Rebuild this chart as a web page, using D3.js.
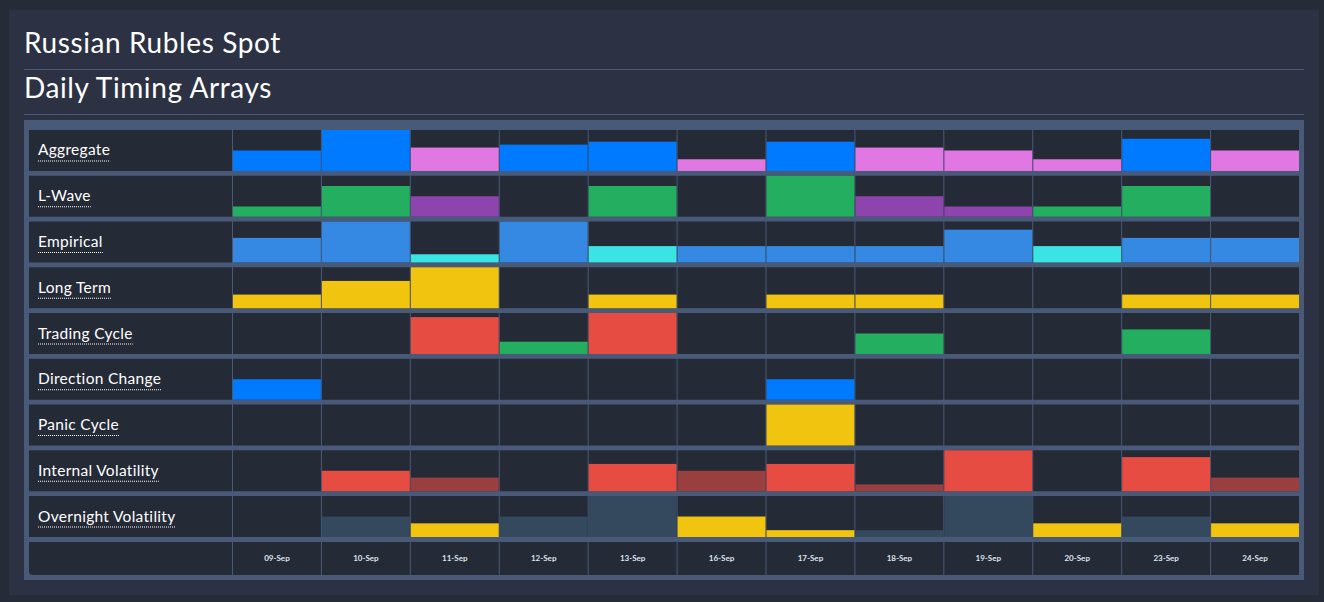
<!DOCTYPE html>
<html>
<head>
<meta charset="utf-8">
<script src="https://cdn.jsdelivr.net/npm/d3@7"></script>
<style>
  html, body { margin: 0; padding: 0; background: #262b38; }
  svg { display: block; }
</style>
</head>
<body>
<svg id="chart" width="1324" height="602"></svg>
<script>
// ---------- DATA ----------
const title = "Russian Rubles Spot";
const subtitle = "Daily Timing Arrays";
const dates = ["09-Sep","10-Sep","11-Sep","12-Sep","13-Sep","16-Sep","17-Sep","18-Sep","19-Sep","20-Sep","23-Sep","24-Sep"];
const rowNames = ["Aggregate","L-Wave","Empirical","Long Term","Trading Cycle","Direction Change","Panic Cycle","Internal Volatility","Overnight Volatility"];

// values per row (bar strength), and max of each row's scale
const aggregateValues   = [7,14,8,9,10,4,10,8,7,4,11,7];
const aggregateType     = ["a","a","b","a","a","b","a","b","b","b","a","b"];
const lwaveValues       = [1,3,2,0,3,0,4,2,1,1,3,0];
const lwaveType         = ["a","a","b","a","a","a","a","b","b","a","a","a"];
const empiricalValues   = [3,5,1,5,2,2,2,2,4,2,3,3];
const empiricalType     = ["a","a","b","a","b","a","a","a","a","b","a","a"];
const longTermValues    = [1,2,3,0,1,0,1,1,0,0,1,1];
const longTermType      = ["a","a","a","a","a","a","a","a","a","a","a","a"];
const tradingValues     = [0,0,9,3,10,0,0,5,0,0,6,0];
const tradingType       = ["a","a","a","b","a","a","a","b","a","a","b","a"];
const directionValues   = [1,0,0,0,0,0,1,0,0,0,0,0];
const directionType     = ["a","a","a","a","a","a","a","a","a","a","a","a"];
const panicValues       = [0,0,0,0,0,0,1,0,0,0,0,0];
const panicType         = ["a","a","a","a","a","a","a","a","a","a","a","a"];
const internalValues    = [0,3,2,0,4,3,4,1,6,0,5,2];
const internalType      = ["a","a","b","a","a","b","a","b","a","a","a","b"];
const overnightValues   = [0,3,2,3,6,3,1,1,6,2,3,2];
const overnightType     = ["a","a","b","a","a","b","b","a","a","b","a","b"];
const rowMax            = [14,4,5,3,10,2,1,6,6];

// ---------- STYLE ----------
const palettes = [
  {a:"#007bff", b:"#e077e2"},
  {a:"#24ae60", b:"#8e44ad"},
  {a:"#3689e3", b:"#3ae4e4"},
  {a:"#f1c40f", b:"#f1c40f"},
  {a:"#e74c42", b:"#24ae60"},
  {a:"#007bff", b:"#007bff"},
  {a:"#f1c40f", b:"#f1c40f"},
  {a:"#e74c42", b:"#9a3f3f"},
  {a:"#34495e", b:"#f1c40f"}
];
const allValues = [aggregateValues,lwaveValues,empiricalValues,longTermValues,tradingValues,directionValues,panicValues,internalValues,overnightValues];
const allTypes  = [aggregateType,lwaveType,empiricalType,longTermType,tradingType,directionType,panicType,internalType,overnightType];

const svg = d3.select("#chart");
const FONT = "Lato, 'Open Sans', sans-serif";
const borderCol = "#485a78";
const cellCol = "#252a37";

// panel
svg.append("rect").attr("x",9).attr("y",10).attr("width",1310).attr("height",585).attr("fill","#2c3243");

// titles
svg.append("text").attr("x",24).attr("y",53).text(title)
  .attr("font-family",FONT).attr("font-size",28).attr("letter-spacing",0.6).attr("fill","#ffffff");
svg.append("line").attr("x1",24).attr("x2",1304).attr("y1",69.5).attr("y2",69.5).attr("stroke","#4a5878").attr("stroke-width",1);
svg.append("text").attr("x",24).attr("y",98).text(subtitle)
  .attr("font-family",FONT).attr("font-size",28).attr("letter-spacing",0.6).attr("fill","#ffffff");
svg.append("line").attr("x1",24).attr("x2",1304).attr("y1",114.5).attr("y2",114.5).attr("stroke","#4a5878").attr("stroke-width",1);

// grid container
svg.append("rect").attr("x",24).attr("y",120).attr("width",1280).attr("height",460).attr("fill",borderCol);

const x = d3.scaleBand().domain(dates).range([232, 1299]).padding(0);
const y = d3.scaleBand().domain(rowNames).range([130, 537]).paddingInner(0.1044).paddingOuter(0);
const bw = x.bandwidth(), bh = y.bandwidth();
const dateTop = 542, dateBottom = 575;

// label cells
svg.append("g").selectAll("rect").data(rowNames).join("rect")
  .attr("x",29).attr("y",d=>y(d)).attr("width",203).attr("height",bh).attr("fill",cellCol);
// date row label cell
svg.append("path")
  .attr("d",`M29,${dateTop}H232V${dateBottom}H33Q29,${dateBottom} 29,${dateBottom-4}Z`)
  .attr("fill",cellCol);

// data cells
const cells = [];
rowNames.forEach((r,ri)=>dates.forEach((d,ci)=>cells.push({r,ri,d,ci,v:allValues[ri][ci],t:allTypes[ri][ci]})));
svg.append("g").selectAll("rect").data(cells).join("rect")
  .attr("x",c=>x(c.d)+1).attr("y",c=>y(c.r)).attr("width",bw-1).attr("height",bh).attr("fill",cellCol);

// bars
svg.append("g").selectAll("rect").data(cells.filter(c=>c.v>0)).join("rect")
  .attr("x",c=>x(c.d)+1)
  .attr("width",bw-1)
  .attr("y",c=>{ const h=d3.scaleLinear().domain([0,rowMax[c.ri]]).range([0,bh]); return y(c.r)+bh-h(c.v); })
  .attr("height",c=>{ const h=d3.scaleLinear().domain([0,rowMax[c.ri]]).range([0,bh]); return h(c.v); })
  .attr("fill",c=>palettes[c.ri][c.t]);

// date row cells + labels
svg.append("g").selectAll("rect").data(dates).join("rect")
  .attr("x",d=>x(d)+1).attr("y",dateTop).attr("width",bw-1).attr("height",dateBottom-dateTop).attr("fill",cellCol);
svg.append("g").selectAll("text").data(dates).join("text")
  .attr("x",d=>x(d)+bw/2+0.5).attr("y",561).attr("text-anchor","middle")
  .attr("font-family",FONT).attr("font-size",8).attr("font-weight",700).attr("fill","#dfe4ee")
  .text(d=>d);

// row labels with dotted underline
const lbl = svg.append("g").selectAll("g").data(rowNames).join("g");
lbl.append("text").attr("x",38).attr("y",d=>y(d)+bh/2+5)
  .attr("font-family",FONT).attr("font-size",15.5).attr("letter-spacing",0.3).attr("fill","#ffffff").text(d=>d);
lbl.each(function(d){
  const g = d3.select(this);
  const w = g.select("text").node().getComputedTextLength();
  g.append("line").attr("x1",38).attr("x2",38+w)
    .attr("y1",y(d)+bh/2+10.5).attr("y2",y(d)+bh/2+10.5)
    .attr("stroke","#ffffff").attr("stroke-width",1).attr("stroke-dasharray","1,1");
});
</script>
</body>
</html>
